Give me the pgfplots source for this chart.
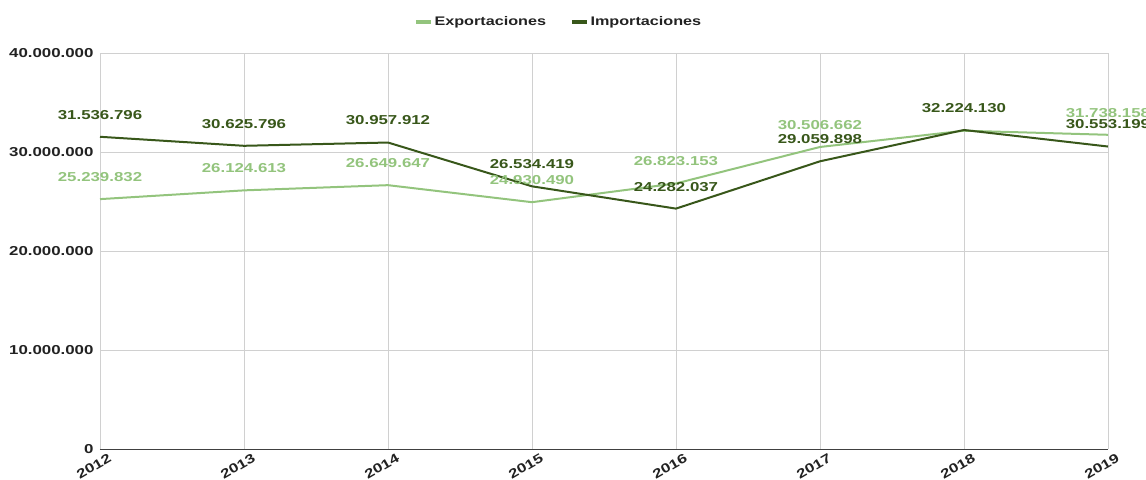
\documentclass[border=0pt]{standalone}
\usepackage{fontspec}
\setmainfont{Liberation Sans}[FakeStretch=1.3]
\usepackage{pgfplots}
\pgfplotsset{compat=1.18}
\definecolor{expc}{HTML}{93C47D}
\definecolor{impc}{HTML}{38571A}
\definecolor{gridc}{HTML}{D0D0D0}
\definecolor{txtc}{HTML}{222222}
\begin{document}
\begin{tikzpicture}
\begin{axis}[
  at={(0,0)}, anchor=south west,
  scale only axis, width=1008bp, height=396bp,
  xmin=0, xmax=7, ymin=0, ymax=40000000,
  xtick={0,...,7}, xticklabels={2012,2013,2014,2015,2016,2017,2018,2019},
  ytick={0,10000000,20000000,30000000,40000000},
  scaled y ticks=false,
  yticklabel style={/pgf/number format/fixed, /pgf/number format/precision=0, /pgf/number format/1000 sep={.}, /pgf/number format/assume math mode=true, xshift=-3bp},
  ticklabel style={font=\fontsize{13}{15}\selectfont\bfseries, text=txtc},
  xticklabel style={rotate=30, anchor=north east, xshift=6bp, yshift=-6bp, inner sep=1bp},
  grid=major, major grid style={draw=gridc, line width=0.8bp},
  axis x line=bottom, axis y line=left,
  x axis line style={-, draw=black!75, line width=1bp},
  y axis line style={-, draw=gridc, line width=0.8bp},
  major tick length=0pt,
  clip=false,
  point meta=explicit symbolic,
  nodes near coords,
  every node near coord/.append style={font=\fontsize{13}{15}\selectfont\bfseries, anchor=center, yshift=22bp},
  legend style={at={(0.455,1.078)}, anchor=center, draw=none, fill=none,
    legend columns=2, font=\fontsize{12.5}{14}\selectfont\bfseries, text=txtc,
    /tikz/every even column/.append style={column sep=22bp}},
  legend image code/.code={\draw[#1, line width=3.5bp] (0bp,0bp) -- (15bp,0bp);},
]
\addplot[color=expc, line width=2bp, every node near coord/.append style={text=expc}] coordinates {
  (0,25239832) [25.239.832]
  (1,26124613) [26.124.613]
  (2,26649647) [26.649.647]
  (3,24930490) [24.930.490]
  (4,26823153) [26.823.153]
  (5,30506662) [30.506.662]
  (6,32150000) [{}]
  (7,31738158) [31.738.158]
};
\addlegendentry{Exportaciones}
\addplot[color=impc, line width=2bp, every node near coord/.append style={text=impc}] coordinates {
  (0,31536796) [31.536.796]
  (1,30625796) [30.625.796]
  (2,30957912) [30.957.912]
  (3,26534419) [26.534.419]
  (4,24282037) [24.282.037]
  (5,29059898) [29.059.898]
  (6,32224130) [32.224.130]
  (7,30553199) [30.553.199]
};
\addlegendentry{Importaciones}
\end{axis}
\pgfresetboundingbox
\path[use as bounding box] (-100bp,-31bp) rectangle (1046bp,449bp);
\end{tikzpicture}
\end{document}
